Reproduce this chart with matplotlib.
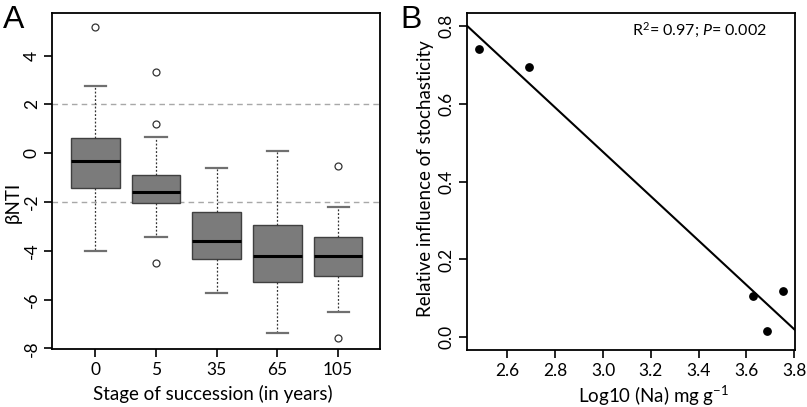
import matplotlib
matplotlib.use("Agg")
import matplotlib.pyplot as plt
import numpy as np

# ---------------- data ----------------
stages = ["0", "5", "35", "65", "105"]
whisker_low = [-4.00, -3.42, -5.75, -7.36, -6.50]
q1 = [-1.43, -2.04, -4.35, -5.29, -5.05]
median = [-0.32, -1.60, -3.59, -4.20, -4.23]
q3 = [0.61, -0.89, -2.42, -2.96, -3.43]
whisker_high = [2.76, 0.65, -0.62, 0.11, -2.22]
outliers = [[5.16], [3.34, 1.21, -4.49], [], [], [-0.54, -7.56]]
thresholds = [2, -2]

log_na = [2.483, 2.692, 3.629, 3.684, 3.751]
stochasticity = [0.740, 0.695, 0.106, 0.015, 0.120]

yticks_a = [-8, -6, -4, -2, 0, 2, 4]
xticks_b = [2.6, 2.8, 3.0, 3.2, 3.4, 3.6, 3.8]
yticks_b = [0.0, 0.2, 0.4, 0.6, 0.8]

# ---------------- style ----------------
FONT = "Lato"
plt.rcParams["font.family"] = [FONT, "DejaVu Sans"]
plt.rcParams["mathtext.fontset"] = "custom"
plt.rcParams["mathtext.rm"] = FONT
plt.rcParams["mathtext.it"] = FONT + ":italic"
plt.rcParams["mathtext.default"] = "rm"
plt.rcParams["axes.linewidth"] = 1.3
TICK_FS = 12.5
LABEL_FS = 13.5

fig = plt.figure(figsize=(8.07, 4.07), dpi=100)

W, H = 807, 407
def axrect(l, t, r, b):
    return [l / W, 1 - b / H, (r - l) / W, (b - t) / H]

# ---------------- panel A ----------------
axA = fig.add_axes(axrect(52.3, 13.3, 380, 349.3))
stats = []
for i in range(len(stages)):
    stats.append(dict(whislo=whisker_low[i], q1=q1[i], med=median[i],
                      q3=q3[i], whishi=whisker_high[i], fliers=outliers[i]))
pos = np.arange(1, len(stages) + 1)
for y in thresholds:
    axA.axhline(y, color="#a8a8a8", lw=1.0, ls=(0, (4, 3)), zorder=0)
axA.bxp(stats, positions=pos, widths=0.8, patch_artist=True, showfliers=True,
        boxprops=dict(facecolor="#7b7b7b", edgecolor="#404040", lw=1.0),
        medianprops=dict(color="black", lw=2.2),
        whiskerprops=dict(color="#333333", lw=0.9, ls=(0, (1.5, 1.5))),
        capprops=dict(color="#707070", lw=1.6),
        capwidths=0.35,
        flierprops=dict(marker="o", markerfacecolor="white", markeredgecolor="#333333",
                        markersize=5, markeredgewidth=0.9))
axA.set_xlim(0.29, 5.69)
axA.set_ylim(-8.04, 5.74)
axA.set_yticks(yticks_a)
axA.set_yticklabels([str(v) for v in yticks_a], rotation=90, va="center")
axA.set_xticks(pos)
axA.set_xticklabels(stages)
axA.tick_params(direction="out", length=6, width=1.2, labelsize=TICK_FS, pad=3)
axA.set_xlabel("Stage of succession (in years)", fontsize=LABEL_FS)
axA.xaxis.set_label_coords(0.49, -0.106)
axA.set_ylabel("βNTI", fontsize=LABEL_FS)
axA.yaxis.set_label_coords(-0.0925, 0.438)
fig.text(3 / W, 1 - 5 / H, "A", fontsize=23, family="Liberation Sans", va="top", ha="left")

# ---------------- panel B ----------------
axB = fig.add_axes(axrect(466.7, 13.3, 795, 350))
axB.scatter(log_na, stochasticity, s=28, color="black", zorder=3)
xlim_b = (2.43, 3.803)
slope, intercept = np.polyfit(log_na, stochasticity, 1)
xx = np.array(xlim_b)
axB.plot(xx, slope * xx + intercept, color="black", lw=1.5)
axB.set_xlim(*xlim_b)
axB.set_ylim(-0.0326, 0.8326)
axB.set_xticks(xticks_b)
axB.set_xticklabels([f"{v:.1f}" for v in xticks_b])
axB.set_yticks(yticks_b)
axB.set_yticklabels([f"{v:.1f}" for v in yticks_b], rotation=90, va="center")
axB.tick_params(direction="out", length=6, width=1.2, labelsize=TICK_FS, pad=3)
axB.set_xlabel("Log10 (Na) mg g$^{-1}$", fontsize=LABEL_FS)
axB.xaxis.set_label_coords(0.57, -0.1)
axB.set_ylabel("Relative influence of stochasticity", fontsize=LABEL_FS)
axB.yaxis.set_label_coords(-0.0996, 0.51)
axB.text(0.71, 0.95, r"R$^2$= 0.97; $\mathit{P}$= 0.002", transform=axB.transAxes,
         fontsize=11.5, ha="center", va="center")
fig.text(400 / W, 1 - 5 / H, "B", fontsize=23, family="Liberation Sans", va="top", ha="left")

fig.savefig("out.png", dpi=100)
